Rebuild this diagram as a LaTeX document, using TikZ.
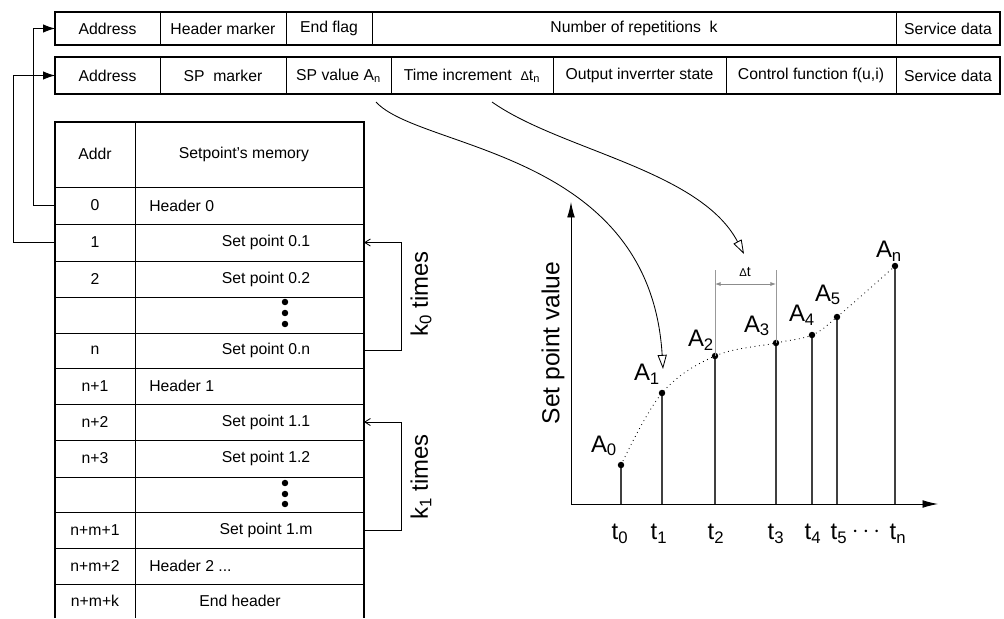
\documentclass[tikz,border=0pt]{standalone}
\usepackage{fontspec}
\setmainfont{Liberation Sans}
\usetikzlibrary{arrows.meta,positioning}

\begin{document}
\begin{tikzpicture}[x=0.025cm,y=-0.025cm,
    txt/.style={font=\fontsize{11.2}{13}\selectfont, inner sep=0pt},
    big/.style={font=\fontsize{17}{19}\selectfont, inner sep=0pt},
    outer/.style={line width=1.4pt},
    rule/.style={line width=0.7pt},
    wire/.style={line width=0.6pt},
    stem/.style={line width=0.9pt, black!75}]

    \useasboundingbox (0,0) rectangle (1004,618);

    % ヘッダの形式
    \draw[outer] (55,12) rectangle (1000,45);
    \foreach \x in {160,286,372,896}
        \draw[rule] (\x,12) -- (\x,45);
    \node[txt] (h-addr) at (107.5,28.5) {Address};
    \node[txt] (h-mark) at (223,28.5) {Header marker};
    \node[txt] (h-end)  at (329,28.5) {End flag};
    \node[txt] (h-rep)  at (634,28.5) {Number of repetitions\ \ k};
    \node[txt] (h-srv)  at (948,28.5) {Service data};
    \coordinate (h-in) at (55,28.5);

    % 設定点の形式
    \draw[outer] (55,57) rectangle (1000,94);
    \foreach \x in {160,286,391,553,726,896}
        \draw[rule] (\x,57) -- (\x,94);
    \node[txt] (s-addr) at (107.5,75.5) {Address};
    \node[txt] (s-mark) at (223,75.5) {SP\ \ marker};
    \node[txt] (s-val)  at (338.5,75.5) {SP value A\textsubscript{n}};
    \node[txt] (s-dt)   at (472,75.5) {Time increment\ \ {\small Δ}t\textsubscript{n}};
    \node[txt] (s-out)  at (639.5,75.5) {Output inverrter state};
    \node[txt] (s-fun)  at (811,75.5) {Control function f(u,i)};
    \node[txt] (s-srv)  at (948,75.5) {Service data};
    \coordinate (s-in) at (55,75.5);

    % メモリの表
    \draw[outer] (55,618) -- (55,122) -- (364,122) -- (364,618);
    \draw[rule] (135,122) -- (135,618);
    \foreach \y in {187,224,261,297,333,368,404,440,477,512,548,584}
        \draw[rule] (55,\y) -- (364,\y);
    \node[txt] (t-addr) at (95,154) {Addr};
    \node[txt] (t-mem)  at (244,154) {Setpoint's memory};
    \foreach \i/\y/\a in {0/205.5/0, 1/242.5/1, 2/279/2, 4/350.5/n, 5/386/n+1,
                          6/422/n+2, 7/458.5/n+3, 9/530/n+m+1, 10/566/n+m+2, 11/601/n+m+k}
        \node[txt] (addr-\i) at (95,\y) {\a};
    \foreach \i/\y/\s in {1/242.5/0.1, 2/279/0.2, 4/350.5/0.n, 6/422/1.1, 7/458.5/1.2, 9/530/1.m}
        \node[txt] (sp-\i) at (266,\y) {Set point \s};
    \foreach \i/\y/\h in {0/205.5/0, 5/386/1}
        \node[txt, anchor=west] (hd-\i) at (149,\y) {Header \h};
    \node[txt, anchor=west] (hd-10) at (149,566) {Header 2 ...};
    \node[txt] (hd-end) at (240,601) {End header};
    \foreach \y in {302,313,324,483,494,504}
        \fill (285,\y) circle (2.3pt);

    % アドレスの矢印
    \coordinate (r0) at (55,205.5);
    \coordinate (r1) at (55,242.5);
    \draw[wire,-{Latex[length=8.5pt,width=6pt]}] (r0) -- ++(-22,0) |- (h-in);
    \draw[wire,-{Latex[length=8.5pt,width=6pt]}] (r1) -- ++(-42,0) |- (s-in);

    % 繰り返しの矢印
    \coordinate (k0-top) at (364,242.5);
    \coordinate (k0-bot) at (364,350.5);
    \coordinate (k1-top) at (364,422);
    \coordinate (k1-bot) at (364,530);
    \draw[wire,-{Straight Barb[length=4pt,width=5pt]}] (k0-bot) -- ++(37,0) |- (k0-top);
    \draw[wire,-{Straight Barb[length=4pt,width=5pt]}] (k1-bot) -- ++(37,0) |- (k1-top);
    \node[big, rotate=90] (k0-lbl) at (421,294) {k\textsubscript{0} times};
    \node[big, rotate=90] (k1-lbl) at (421,477) {k\textsubscript{1} times};

    % グラフの軸
    \coordinate (O) at (571,504);
    \coordinate (y-tip) at (571,202);
    \coordinate (x-tip) at (938,504);
    \draw[wire,-{Latex[length=11pt,width=5.5pt]}] (O) -- (y-tip);
    \draw[wire,-{Latex[length=11pt,width=5.5pt]}] (O) -- (x-tip);
    \node[font=\fontsize{17.5}{19}\selectfont, inner sep=0pt, rotate=90] (y-lbl) at (553,343) {Set point value};

    % 設定点
    \foreach \n/\x/\y in {0/621/465, 1/662/393, 2/715/356, 3/776/343, 4/812/335, 5/837/317, n/895/266} {
        \coordinate (A\n) at (\x,\y);
        \draw[stem] (\x,504) -- (A\n);
        \fill (A\n) circle (2.3pt);
    }
    \draw[line width=0.6pt, dash pattern=on 0.6pt off 2.6pt] plot[smooth, tension=0.6] coordinates {(A0) (A1) (A2) (A3) (A4) (A5) (An)};
    \foreach \n/\x/\y in {0/604/446, 1/647/374, 2/701/340, 3/757/326, 4/802/315, 5/828/295, n/889/251}
        \node[big] (lA\n) at (\x,\y) {A\textsubscript{\n}};
    \foreach \n/\x in {0/620, 1/659, 2/716, 3/776, 4/813, 5/839, n/898}
        \node[big] (lt\n) at (\x,534) {t\textsubscript{\n}};
    \node[big] (lt-dots) at (866,532) {$\cdots$};

    % Δt の寸法
    \draw[black!40, line width=0.7pt] (A2) -- (715,270);
    \draw[black!40, line width=0.7pt] (A3) -- (776,270);
    \draw[black!45, line width=0.7pt, {Latex[length=4pt,width=3pt]}-{Latex[length=4pt,width=3pt]}] (715,284) -- (776,284);
    \node[font=\fontsize{10}{11}\selectfont, inner sep=0pt] (dt-lbl) at (745,272) {{\footnotesize Δ}t};

    % 形式からグラフへの矢印
    \coordinate (c1) at (376,102);
    \coordinate (c2) at (492,102);
    \draw[wire,-{Triangle[open,length=10pt,width=6.5pt]}] (c1) .. controls (420,150) and (650,150) .. (663,369);
    \draw[wire,-{Triangle[open,length=10pt,width=6.5pt]}] (c2) .. controls (560,150) and (700,170) .. (744,254);

\end{tikzpicture}
\end{document}
